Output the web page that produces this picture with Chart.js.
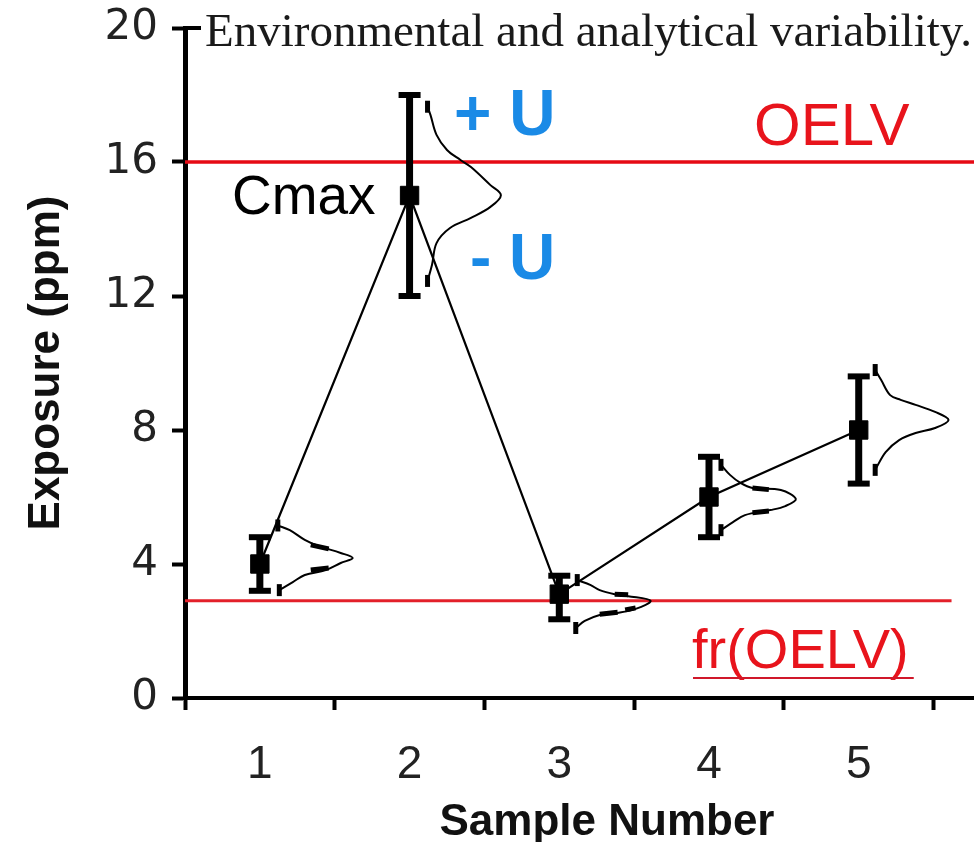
<!DOCTYPE html>
<html>
<head>
<meta charset="utf-8">
<title>Environmental and analytical variability</title>
<script src="https://cdn.jsdelivr.net/npm/chart.js@4.4.1/dist/chart.umd.min.js"></script>
<style>
  html, body { margin: 0; padding: 0; background: #fff; }
  #wrap { width: 974px; height: 842px; }
</style>
</head>
<body>
<div id="wrap"><canvas id="chart" width="974" height="842"></canvas></div>
<script>
// values
const samples = [1, 2, 3, 4, 5];
const exposure = [4.0, 15.0, 3.1, 6.0, 8.0];
const errLow = [3.2, 12.0, 2.35, 4.8, 6.4];
const errHigh = [4.8, 18.0, 3.65, 7.2, 9.6];
const yTickVals = [0, 4, 8, 12, 16, 20];
const xTickVals = [1, 2, 3, 4, 5];
const oelv = 16;
const frOelv = 2.9;
const xTitle = 'Sample Number';
const yTitle = 'Exposure (ppm)';

// sideways distribution sketches next to each sample, [x, y] in axis units
const dist1 = [[1.12, 5.15], [1.20, 5.01], [1.30, 4.72], [1.39, 4.54], [1.54, 4.33], [1.62, 4.18],
  [1.54, 4.03], [1.44, 3.82], [1.30, 3.67], [1.22, 3.46], [1.13, 3.22]];
const dist2 = [[2.12, 17.65], [2.14, 17.40], [2.18, 16.81], [2.25, 16.36], [2.34, 16.06], [2.41, 15.85],
  [2.54, 15.31], [2.61, 15.01], [2.54, 14.66], [2.41, 14.33], [2.27, 14.03], [2.18, 13.58],
  [2.15, 12.93], [2.12, 12.45]];
const dist3 = [[3.12, 3.52], [3.21, 3.37], [3.27, 3.22], [3.37, 3.10], [3.46, 3.04], [3.61, 2.90],
  [3.51, 2.66], [3.39, 2.54], [3.27, 2.48], [3.17, 2.30], [3.11, 2.09]];
const dist4 = [[4.08, 6.96], [4.14, 6.66], [4.21, 6.42], [4.29, 6.27], [4.48, 6.21], [4.58, 5.94],
  [4.51, 5.73], [4.41, 5.61], [4.24, 5.46], [4.16, 5.25], [4.08, 5.01]];
const dist5 = [[5.11, 9.79], [5.15, 9.49], [5.21, 9.04], [5.28, 8.90], [5.38, 8.75], [5.51, 8.54],
  [5.60, 8.30], [5.51, 8.06], [5.38, 7.91], [5.27, 7.70], [5.18, 7.34], [5.11, 6.81]];
// thick smudges on the sketches (scan marks)
const smudges = [[1.34, 4.57], [1.46, 4.45], null, [1.34, 3.82], [1.46, 3.88], null,
  [3.37, 3.10], [3.46, 3.08], null, [3.27, 2.50], [3.39, 2.56], null, [3.44, 2.63], [3.51, 2.69], null,
  [4.29, 6.27], [4.40, 6.22], null, [4.29, 5.53], [4.40, 5.58]];

const sans = '"Liberation Sans", Arial, sans-serif';
const toPts = arr => arr.map(p => p ? { x: p[0], y: p[1] } : { x: null, y: null });

const mainPts = samples.map((s, i) => ({ x: s, y: exposure[i] }));
const errPts = samples.flatMap((s, i) => [{ x: s, y: errLow[i] }, { x: s, y: errHigh[i] }, { x: s, y: null }]);

function distSet(arr) {
    const last = arr.length - 1;
    return {
        data: toPts(arr),
        borderColor: '#000',
        borderWidth: 2,
        tension: 0.35,
        pointStyle: 'line',
        pointRotation: 90,
        pointRadius: c => (c.dataIndex === 0 || c.dataIndex === last) ? 6 : 0,
        pointBorderWidth: 5,
        pointBorderColor: '#000',
        order: 2
    };
}

const annotations = {
    id: 'annotations',
    afterDraw(chart) {
        const { ctx, scales: { y } } = chart;
        ctx.save();
        ctx.textBaseline = 'alphabetic';
        ctx.textAlign = 'left';

        // top "T" of the axis
        ctx.strokeStyle = '#000';
        ctx.lineWidth = 4;
        ctx.beginPath();
        ctx.moveTo(183, y.getPixelForValue(20));
        ctx.lineTo(201, y.getPixelForValue(20));
        ctx.stroke();

        ctx.fillStyle = '#1a1a1a';
        ctx.font = '47px "Liberation Serif", "Times New Roman", serif';
        ctx.fillText('Environmental and analytical variability.', 205, 46);

        // x axis title sits a little right of the axis centre
        ctx.fillStyle = '#111';
        ctx.font = 'bold 44px ' + sans;
        ctx.textAlign = 'center';
        ctx.fillText(xTitle, 607, 835);
        ctx.textAlign = 'left';

        ctx.fillStyle = '#000';
        ctx.font = '55px ' + sans;
        ctx.fillText('Cmax', 232, 214);

        ctx.fillStyle = '#1a8ae6';
        ctx.font = 'bold 64px ' + sans;
        ctx.fillText('+ U', 454, 135);
        ctx.fillText('- U', 470, 279);

        ctx.fillStyle = '#e8141c';
        ctx.font = '60px ' + sans;
        ctx.fillText('OELV', 754, 145);

        ctx.font = '56px ' + sans;
        ctx.fillText('fr(OELV)', 692, 668);
        const w = ctx.measureText('fr(OELV)').width;
        ctx.strokeStyle = '#d0182a';
        ctx.lineWidth = 2;
        ctx.beginPath();
        ctx.moveTo(693, 678);
        ctx.lineTo(697 + w, 678);
        ctx.stroke();
        ctx.restore();
    }
};

new Chart(document.getElementById('chart'), {
    type: 'line',
    data: {
        datasets: [
            {
                data: errPts,
                borderColor: '#000',
                borderWidth: 7,
                borderCapStyle: 'butt',
                spanGaps: false,
                pointStyle: 'line',
                pointRadius: c => (c.raw && c.raw.y != null) ? 11 : 0,
                pointBorderWidth: 6,
                pointBorderColor: '#000',
                order: 0
            },
            {
                data: mainPts,
                borderColor: '#000',
                borderWidth: 2.2,
                tension: 0,
                pointStyle: 'rect',
                pointRadius: 13,
                pointBackgroundColor: '#000',
                pointBorderColor: '#000',
                pointBorderWidth: 1,
                order: 1
            },
            distSet(dist1), distSet(dist2), distSet(dist3), distSet(dist4), distSet(dist5),
            {
                data: toPts(smudges),
                borderColor: '#000',
                borderWidth: 5,
                spanGaps: false,
                pointRadius: 0,
                order: 2
            },
            {
                data: [{ x: 0.5, y: oelv }, { x: 5.77, y: oelv }],
                borderColor: '#e60a14',
                borderWidth: 3.5,
                pointRadius: 0,
                order: 3
            },
            {
                data: [{ x: 0.5, y: frOelv }, { x: 5.62, y: frOelv }],
                borderColor: '#e3202a',
                borderWidth: 3,
                pointRadius: 0,
                order: 3
            }
        ]
    },
    options: {
        responsive: false,
        animation: false,
        events: [],
        layout: { autoPadding: false, padding: { top: 28, left: 0, right: 0, bottom: 0 } },
        plugins: { legend: { display: false }, tooltip: { enabled: false } },
        scales: {
            x: {
                type: 'linear',
                min: 0.5,
                max: 5.77,
                afterBuildTicks: s => { s.ticks = xTickVals.map(v => ({ value: v })); },
                afterFit: s => { s.height = 144; },
                grid: { offset: true, drawOnChartArea: false, tickLength: 12, tickWidth: 4, tickColor: '#000' },
                border: { color: '#000', width: 4 },
                ticks: {
                    padding: 32, color: '#222', autoSkip: false, maxRotation: 0,
                    font: { family: sans, size: 46, lineHeight: 1 },
                    callback: v => String(v)
                },
                title: { display: false }
            },
            y: {
                min: 0,
                max: 20,
                afterBuildTicks: s => { s.ticks = yTickVals.map(v => ({ value: v })); },
                afterFit: s => { s.width = 185; },
                grid: { drawOnChartArea: false, tickLength: 13, tickWidth: 4, tickColor: '#000' },
                border: { color: '#000', width: 5 },
                ticks: {
                    padding: 14, color: '#222',
                    font: { family: '"DejaVu Sans", sans-serif', size: 42, lineHeight: 0.4 }
                },
                title: {
                    display: true, text: yTitle, color: '#111',
                    font: { family: sans, size: 44, weight: 'bold', lineHeight: 1 },
                    padding: { top: 25, bottom: 0 }
                }
            }
        }
    },
    plugins: [annotations]
});
</script>
</body>
</html>
